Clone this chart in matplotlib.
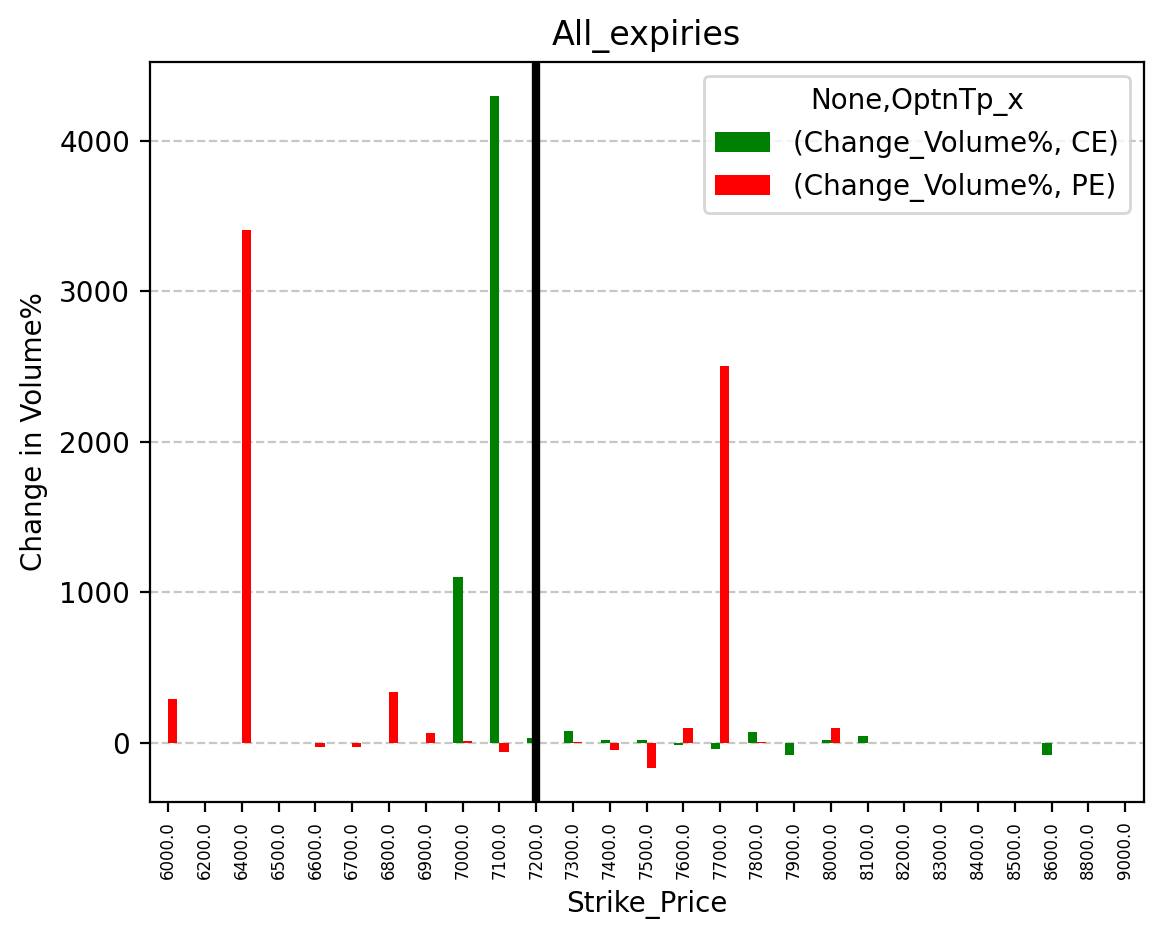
import matplotlib
matplotlib.use("Agg")
import matplotlib.pyplot as plt
import numpy as np

strikes = [6000.0, 6200.0, 6400.0, 6500.0, 6600.0, 6700.0, 6800.0, 6900.0, 7000.0, 7100.0,
           7200.0, 7300.0, 7400.0, 7500.0, 7600.0, 7700.0, 7800.0, 7900.0, 8000.0, 8100.0,
           8200.0, 8300.0, 8400.0, 8500.0, 8600.0, 8800.0, 9000.0]
ce = [0, 0, 0, 0, 0, 0, 0, 0, 1100, 4300, 30, 80, 15, 15, -15, -40, 70, -80, 20, 45,
      0, 0, 0, 0, -80, 0, 0]
pe = [290, 0, 3410, 0, -30, -30, 340, 65, 10, -60, 0, 5, -50, -170, 95, 2500, 5, 0, 95, 0,
      0, 0, 0, 0, 0, 0, 0]

fig, ax = plt.subplots(figsize=(5.805, 4.695), dpi=200)
x = np.arange(len(strikes))
w = 0.25
ax.bar(x - w/2, ce, w, color="green", label="(Change_Volume%, CE)")
ax.bar(x + w/2, pe, w, color="red", label="(Change_Volume%, PE)")
ax.set_xlim(-0.5, len(strikes) - 0.5)
ax.set_xticks(x)
ax.set_xticklabels([f"{s:.1f}" for s in strikes], rotation=90, fontsize=6)
ax.axvline(strikes.index(7200.0), color="black", linewidth=3)
ax.grid(axis="y", linestyle="--", alpha=0.7)
ax.set_axisbelow(True)
ax.set_title("All_expiries")
ax.set_xlabel("Strike_Price")
ax.set_ylabel("Change in Volume%")
ax.legend(title="None,OptnTp_x", loc="upper right")
fig.subplots_adjust(left=0.129, right=0.985, top=0.934, bottom=0.146)
fig.savefig("out.png", dpi=200)
